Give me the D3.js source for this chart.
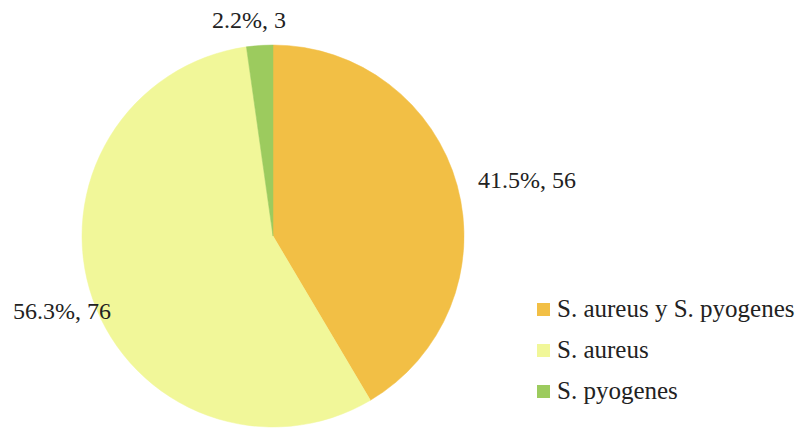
<!DOCTYPE html>
<html>
<head>
<meta charset="utf-8">
<script src="https://cdn.jsdelivr.net/npm/d3@7"></script>
<style>
  html, body { margin: 0; padding: 0; background: #fff; }
  svg { display: block; }
  text { font-family: "Liberation Serif", "Times New Roman", serif; fill: #222; }
</style>
</head>
<body>
<svg id="chart" width="804" height="430"></svg>
<script>
// Species distribution
const categories = ["S. aureus y S. pyogenes", "S. aureus", "S. pyogenes"];
const counts = [56, 76, 3];
const percents = ["41.5%", "56.3%", "2.2%"];
const colors = ["#F2BF45", "#F1F799", "#9CCB5E"];

const svg = d3.select("#chart");
const cx = 273, cy = 236, radius = 191;

const pie = d3.pie().sort(null).value(d => d.value);
const arcs = pie(categories.map((c, i) => ({ name: c, value: counts[i], pct: percents[i], color: colors[i] })));
const arc = d3.arc().innerRadius(0).outerRadius(radius);

const g = svg.append("g").attr("transform", `translate(${cx},${cy})`);
g.selectAll("path")
  .data(arcs)
  .join("path")
  .attr("d", arc)
  .attr("fill", d => d.data.color)
  .attr("stroke", d => d.data.color)
  .attr("stroke-width", 0.5);

// Data labels placed outside each slice
const labelPos = [
  [478, 188],
  [13, 319],
  [212, 28]
];
svg.selectAll("text.lbl")
  .data(arcs)
  .join("text")
  .attr("class", "lbl")
  .attr("x", (d, i) => labelPos[i][0])
  .attr("y", (d, i) => labelPos[i][1])
  .attr("font-size", 24)
  .text(d => `${d.data.pct}, ${d.data.value}`);

// Legend
const legend = svg.append("g").attr("transform", "translate(537,317)");
const rows = legend.selectAll("g")
  .data(categories)
  .join("g")
  .attr("transform", (d, i) => `translate(0,${i * 41})`);
rows.append("rect")
  .attr("x", 0).attr("y", -14)
  .attr("width", 13).attr("height", 13)
  .attr("fill", (d, i) => colors[i]);
rows.append("text")
  .attr("x", 20).attr("y", 0)
  .attr("font-size", 25)
  .text(d => d);
</script>
</body>
</html>
